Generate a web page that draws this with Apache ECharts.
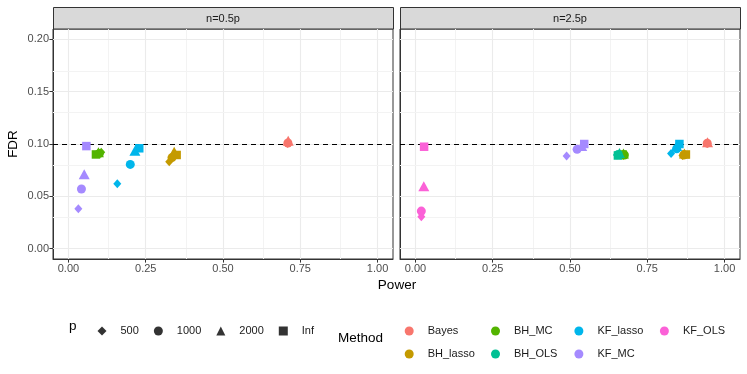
<!DOCTYPE html>
<html>
<head>
<meta charset="utf-8">
<title>FDR vs Power</title>
<script src="https://cdn.jsdelivr.net/npm/echarts@6/dist/echarts.min.js"></script>
<style>
  html, body { margin: 0; padding: 0; background: #fff; }
  #main { width: 747px; height: 374px; }
</style>
</head>
<body>
<div id="main"></div>
<script>
// facets, methods and p levels
var panels = ['n=0.5p', 'n=2.5p'];
var methods = ['Bayes', 'BH_lasso', 'BH_MC', 'BH_OLS', 'KF_lasso', 'KF_MC', 'KF_OLS'];
var methodColors = ['#F8766D', '#C49A00', '#53B400', '#00C094', '#00B6EB', '#A58AFF', '#FB61D7'];
var pLevels = ['500', '1000', '2000', 'Inf'];
var pSymbols = ['diamond', 'circle', 'triangle', 'rect'];

var xTicks = [0, 0.25, 0.5, 0.75, 1];
var yTicks = [0, 0.05, 0.1, 0.15, 0.2];
var targetFdr = 0.1;

// rows follow methods, columns follow pLevels (500, 1000, 2000, Inf)
var powerHalf = [
  [0.709, 0.710, 0.711, null],
  [0.326, 0.335, 0.342, 0.350],
  [0.106, 0.100, 0.097, 0.089],
  null,
  [0.158, 0.200, 0.215, 0.229],
  [0.032, 0.042, 0.051, 0.058],
  null
];
var fdrHalf = [
  [0.1005, 0.101, 0.103, null],
  [0.083, 0.087, 0.0926, 0.0895],
  [0.092, 0.091, 0.092, 0.090],
  null,
  [0.062, 0.0805, 0.0936, 0.0959],
  [0.038, 0.057, 0.071, 0.098],
  null
];
var powerTwoHalf = [
  [0.944, 0.944, 0.945, null],
  [0.864, 0.868, 0.870, 0.875],
  [0.672, 0.676, 0.673, 0.670],
  [0.652, 0.656, 0.660, 0.655],
  [0.827, 0.845, 0.845, 0.854],
  [0.489, 0.523, 0.538, 0.546],
  [0.019, 0.019, 0.027, 0.028]
];
var fdrTwoHalf = [
  [0.1005, 0.1008, 0.1016, null],
  [0.089, 0.0895, 0.091, 0.090],
  [0.089, 0.0895, 0.091, 0.090],
  [0.0895, 0.090, 0.0915, 0.089],
  [0.091, 0.0955, 0.098, 0.100],
  [0.0885, 0.0949, 0.098, 0.100],
  [0.0305, 0.0358, 0.0597, 0.0974]
];

var symbolSizes = [[8, 9], 9, [11, 10], 8.5];
var font = 'Liberation Sans';

var gridLefts = [53, 400];
var gridW = 340, gridTop = 29, gridH = 230;

function fmt(v) { return v.toFixed(2); }

var series = [];
var panelData = [[powerHalf, fdrHalf], [powerTwoHalf, fdrTwoHalf]];
var major = { color: '#EBEBEB', width: 1.1, type: 'solid' };
var minor = { color: '#F3F3F3', width: 1, type: 'solid' };

panels.forEach(function (pn, g) {
  // background grid lines drawn on the axes' scales
  var lines = [];
  xTicks.forEach(function (v) { lines.push({ xAxis: v, lineStyle: major }); });
  for (var i = 0; i < xTicks.length - 1; i++) {
    lines.push({ xAxis: (xTicks[i] + xTicks[i + 1]) / 2, lineStyle: minor });
  }
  yTicks.forEach(function (v) { lines.push({ yAxis: v, lineStyle: major }); });
  for (var k = 0; k < yTicks.length - 1; k++) {
    lines.push({ yAxis: (yTicks[k] + yTicks[k + 1]) / 2, lineStyle: minor });
  }
  series.push({
    type: 'scatter', xAxisIndex: g, yAxisIndex: g, data: [], z: 1, silent: true,
    markLine: { silent: true, symbol: ['none', 'none'], label: { show: false }, animation: false,
      lineStyle: major, emphasis: { disabled: true }, data: lines }
  });
  series.push({
    type: 'scatter', xAxisIndex: g, yAxisIndex: g, data: [], z: 2, silent: true,
    markLine: {
      silent: true, symbol: ['none', 'none'], label: { show: false }, animation: false,
      lineStyle: { color: '#000', width: 1.1, type: [5, 4] }, emphasis: { disabled: true },
      data: [{ yAxis: targetFdr }]
    }
  });

  var pw = panelData[g][0], fd = panelData[g][1];
  methods.forEach(function (m, i) {
    if (!pw[i]) return;
    var pts = [];
    pLevels.forEach(function (p, j) {
      if (pw[i][j] == null) return;
      pts.push({ value: [pw[i][j], fd[i][j]], symbol: pSymbols[j], symbolSize: symbolSizes[j] });
    });
    series.push({
      name: m, type: 'scatter', xAxisIndex: g, yAxisIndex: g, z: 10,
      itemStyle: { color: methodColors[i], opacity: 1 },
      data: pts
    });
  });
});

// black dummy series for the p (shape) legend
pLevels.forEach(function (p, j) {
  series.push({ name: p, type: 'scatter', xAxisIndex: 0, yAxisIndex: 0, data: [],
    symbol: pSymbols[j], itemStyle: { color: '#000' } });
});

var legendText = { fontFamily: font, fontSize: 11, color: '#1A1A1A', padding: [0, 0, 0, 9], lineHeight: 13 };

var legends = [{
  orient: 'horizontal', left: 92.5, top: 319.5, itemWidth: 9, itemHeight: 9, itemGap: 15,
  selectedMode: false, textStyle: legendText,
  data: pLevels.map(function (p, j) { return { name: p, icon: pSymbols[j] }; })
}];
var methodCols = [['Bayes', 'BH_lasso'], ['BH_MC', 'BH_OLS'], ['KF_lasso', 'KF_MC'], ['KF_OLS']];
var colLefts = [399.7, 486, 569.4, 654.9];
methodCols.forEach(function (col, c) {
  legends.push({
    orient: 'vertical', left: colLefts[c], top: 319.5, itemWidth: 9, itemHeight: 9, itemGap: 10,
    selectedMode: false, textStyle: legendText,
    data: col.map(function (n) { return { name: n, icon: 'circle' }; })
  });
});

var graphics = [];
panels.forEach(function (pn, g) {
  graphics.push({
    type: 'rect', shape: { x: gridLefts[g] + 0.5, y: 7.5, width: gridW, height: 21.5 },
    style: { fill: '#D9D9D9', stroke: '#333333', lineWidth: 1 }, silent: true
  });
  graphics.push({
    type: 'text', x: gridLefts[g] + gridW / 2, y: 18.5,
    style: { text: pn, fontFamily: font, fontSize: 11, fill: '#1A1A1A', align: 'center', verticalAlign: 'middle' }
  });
});
graphics.push({ type: 'text', x: 397, y: 285,
  style: { text: 'Power', fontFamily: font, fontSize: 13.5, fill: '#000', align: 'center', verticalAlign: 'middle' } });
graphics.push({ type: 'text', x: 69, y: 326,
  style: { text: 'p', fontFamily: font, fontSize: 13.5, fill: '#000', align: 'left', verticalAlign: 'middle' } });
graphics.push({ type: 'text', x: 338, y: 338,
  style: { text: 'Method', fontFamily: font, fontSize: 13.5, fill: '#000', align: 'left', verticalAlign: 'middle' } });

var option = {
  animation: false,
  backgroundColor: '#fff',
  textStyle: { fontFamily: font },
  grid: gridLefts.map(function (l) {
    return { left: l, top: gridTop, width: gridW, height: gridH, show: true,
      borderColor: '#333333', borderWidth: 1, backgroundColor: 'transparent' };
  }),
  xAxis: gridLefts.map(function (l, g) {
    return {
      type: 'value', gridIndex: g, min: -0.05, max: 1.05,
      axisLine: { show: true, onZero: false, lineStyle: { color: '#333333' } },
      axisTick: { show: true, customValues: xTicks, length: 3.6, lineStyle: { color: '#333333' } },
      axisLabel: { customValues: xTicks, formatter: fmt, color: '#4D4D4D', fontSize: 11, margin: 4, fontFamily: font },
      splitLine: { show: false }
    };
  }),
  yAxis: gridLefts.map(function (l, g) {
    return {
      type: 'value', gridIndex: g, min: -0.01, max: 0.21,
      name: g === 0 ? 'FDR' : '', nameLocation: 'middle', nameGap: 33, nameRotate: 90,
      nameTextStyle: { fontFamily: font, fontSize: 13.5, color: '#000' },
      axisLine: { show: true, onZero: false, lineStyle: { color: '#333333' } },
      axisTick: { show: g === 0, customValues: yTicks, length: 3.6, lineStyle: { color: '#333333' } },
      axisLabel: { show: g === 0, customValues: yTicks, formatter: fmt, color: '#4D4D4D', fontSize: 11, margin: 4, fontFamily: font },
      splitLine: { show: false }
    };
  }),
  legend: legends,
  graphic: graphics,
  series: series
};

var myChart = echarts.init(document.getElementById('main'));
myChart.setOption(option);
</script>
</body>
</html>
